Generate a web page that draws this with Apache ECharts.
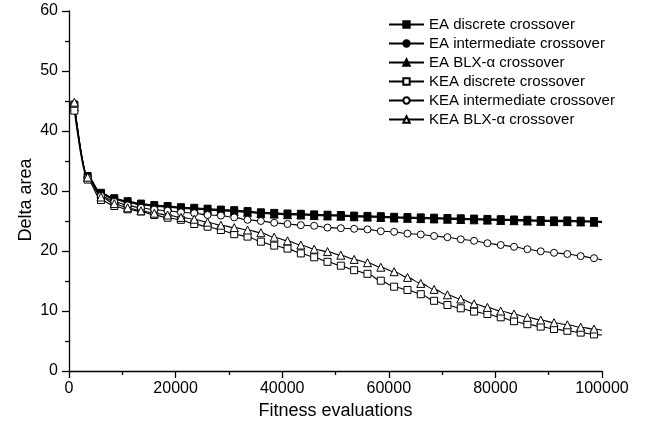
<!DOCTYPE html>
<html>
<head>
<meta charset="utf-8">
<script src="https://cdn.jsdelivr.net/npm/echarts@6/dist/echarts.min.js"></script>
<style>html,body{margin:0;padding:0;background:#fff}#c{width:656px;height:430px}</style>
</head>
<body>
<div id="c"></div>
<script>
// x positions (fitness evaluations); last entry is the line end without marker
var evals = [1000,3500,6000,8500,11000,13500,16000,18500,21000,23500,26000,28500,31000,33500,36000,38500,41000,43500,46000,48500,51000,53500,56000,58500,61000,63500,66000,68500,71000,73500,76000,78500,81000,83500,86000,88500,91000,93500,96000,98500,100000];

var eaDiscrete = [44.4,32.5,29.7,28.8,28.3,27.9,27.65,27.5,27.3,27.2,27.05,26.9,26.8,26.65,26.45,26.35,26.25,26.2,26.1,26.05,26.0,25.9,25.85,25.8,25.7,25.65,25.6,25.55,25.5,25.45,25.4,25.35,25.3,25.25,25.2,25.15,25.1,25.1,25.05,25.0,24.95];
var eaIntermediate = [44.2,32.4,29.6,28.7,28.2,27.8,27.55,27.4,27.2,27.1,26.95,26.8,26.7,26.55,26.35,26.25,26.15,26.1,26.0,25.95,25.9,25.8,25.75,25.7,25.6,25.55,25.5,25.45,25.4,25.35,25.3,25.25,25.2,25.15,25.1,25.05,25.0,25.0,24.95,24.9,24.85];
var eaBlx = [44.0,32.3,29.5,28.6,28.1,27.7,27.45,27.3,27.1,27.0,26.85,26.7,26.6,26.45,26.25,26.15,26.05,26.0,25.9,25.85,25.8,25.7,25.65,25.6,25.5,25.45,25.4,25.35,25.3,25.25,25.2,25.15,25.1,25.05,25.0,24.95,24.9,24.9,24.85,24.8,24.75];
var keaDiscrete = [43.4,31.9,28.5,27.5,26.95,26.6,26.0,25.55,25.2,24.5,24.05,23.5,22.8,22.4,21.55,20.9,20.4,19.6,18.95,18.2,17.55,16.8,16.2,15.05,14.05,13.5,12.8,11.7,11.0,10.45,9.9,9.5,8.95,8.3,7.8,7.4,7.0,6.7,6.4,6.1,6.0];
var keaIntermediate = [44.5,32.2,29.2,28.2,27.6,27.2,26.9,26.7,26.45,26.3,26.0,25.9,25.6,25.2,25.0,24.7,24.5,24.3,24.2,23.9,23.8,23.7,23.6,23.3,23.2,22.9,22.75,22.5,22.3,21.95,21.7,21.3,21.0,20.7,20.3,19.95,19.7,19.5,19.15,18.8,18.5];
var keaBlx = [44.8,32.3,29.0,27.9,27.2,26.7,26.3,26.0,25.6,25.3,24.8,24.3,23.9,23.5,23.05,22.3,21.7,21.0,20.3,19.9,19.3,18.6,18.05,17.3,16.55,15.6,14.6,13.6,12.7,12.0,11.2,10.6,10.0,9.5,8.95,8.5,8.05,7.7,7.3,7.0,6.8];

var seriesNames = ['EA discrete crossover','EA intermediate crossover','EA BLX-\u03b1 crossover','KEA discrete crossover','KEA intermediate crossover','KEA BLX-\u03b1 crossover'];
var xTicks = [0,20000,40000,60000,80000,100000];
var yTicks = [0,10,20,30,40,50,60];

var values = [eaDiscrete, eaIntermediate, eaBlx, keaDiscrete, keaIntermediate, keaBlx];
var symbols = ['rect','circle','triangle','rect','circle','triangle'];
var filled = [true,true,true,false,false,false];

function buildData(vals){
  return evals.map(function(x,i){
    var item = {value:[x, vals[i]]};
    if (i === evals.length-1) item.symbol = 'none';
    return item;
  });
}

var series = values.map(function(v,i){
  return {
    name: seriesNames[i],
    type: 'line',
    data: buildData(v),
    symbol: symbols[i],
    symbolSize: symbols[i]==='triangle' ? 8 : 7,
    smooth: 0.35,
    smoothMonotone: 'x',
    showAllSymbol: true,
    lineStyle: {color:'#000', width:1.1},
    itemStyle: {color: filled[i] ? '#000' : '#fff', borderColor:'#000', borderWidth:1},
    emphasis: {disabled:true}
  };
});

var chart = echarts.init(document.getElementById('c'), null, {renderer:'canvas'});
chart.setOption({
  animation: false,
  backgroundColor: '#fff',
  textStyle: {fontFamily: 'Liberation Sans, Arial, sans-serif'},
  grid: {left: 69, right: 54, top: 11, bottom: 59, containLabel: false},
  legend: {
    orient: 'vertical',
    left: 388,
    top: 17,
    padding: 0,
    itemWidth: 35,
    itemHeight: 8,
    itemGap: 4,
    data: seriesNames,
    textStyle: {fontSize: 15, color:'#000', fontFamily:'Liberation Sans, Arial, sans-serif'}
  },
  xAxis: {
    type: 'value',
    min: 0, max: 100000, interval: 20000,
    name: 'Fitness evaluations',
    nameLocation: 'middle',
    nameGap: 31,
    nameMoveOverlap: false,
    nameTextStyle: {fontSize: 18, color:'#000'},
    axisLine: {show:true, onZero:false, lineStyle:{color:'#000', width:1.3}},
    axisTick: {show:true, inside:false, length:7, lineStyle:{color:'#000', width:1.3}},
    minorTick: {show:true, splitNumber:2, length:4, lineStyle:{color:'#000', width:1.3}},
    splitLine: {show:false},
    axisLabel: {fontSize:16, color:'#000', margin:10, formatter: function(v){ return xTicks.indexOf(v)>=0 ? String(v) : ''; }}
  },
  yAxis: {
    type: 'value',
    min: 0, max: 60, interval: 10,
    name: 'Delta area',
    nameLocation: 'middle',
    nameGap: 34,
    nameMoveOverlap: false,
    nameTextStyle: {fontSize: 18, color:'#000', padding:[0,18,0,0]},
    axisLine: {show:true, onZero:false, lineStyle:{color:'#000', width:1.3}},
    axisTick: {show:true, inside:false, length:7, lineStyle:{color:'#000', width:1.3}},
    minorTick: {show:true, splitNumber:2, length:4, lineStyle:{color:'#000', width:1.3}},
    splitLine: {show:false},
    axisLabel: {fontSize:16, color:'#000', margin:11, formatter: function(v){ return yTicks.indexOf(v)>=0 ? String(v) : ''; }}
  },
  series: series
});
</script>
</body>
</html>
